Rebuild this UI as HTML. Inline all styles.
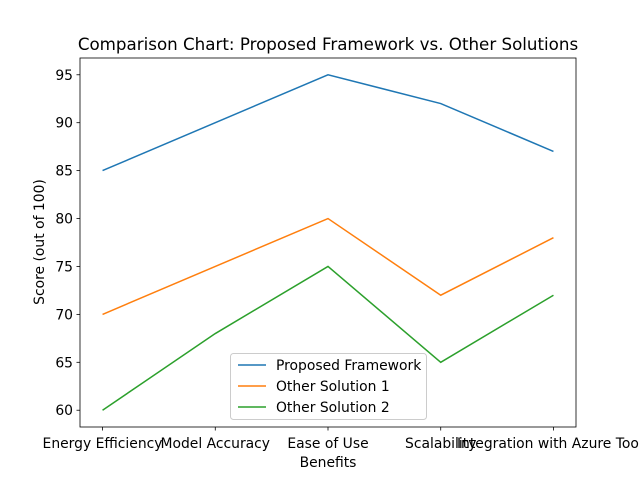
<!DOCTYPE html>
<html><head><meta charset="utf-8"><style>
body{margin:0;background:#fff;}
svg text{font-family:"DejaVu Sans","Liberation Sans",sans-serif;fill:#000;}
</style></head><body>
<svg id="chart" width="640" height="480">
<rect width="640" height="480" fill="#fff"/>
<text x="328" y="50" font-size="16.7" text-anchor="middle">Comparison Chart: Proposed Framework vs. Other Solutions</text>
<g id="plot"></g>
<rect x="80" y="58" width="496" height="369" fill="none" stroke="#000" stroke-width="0.8"/>
<text x="328" y="467" font-size="13.9" text-anchor="middle">Benefits</text>
<text transform="translate(44,242) rotate(-90)" font-size="13.9" text-anchor="middle">Score (out of 100)</text>
</svg>
<script>
const categories=["Energy Efficiency","Model Accuracy","Ease of Use","Scalability","Integration with Azure Tools"];
const proposed=[85,90,95,92,87];
const other1=[70,75,80,72,78];
const other2=[60,68,75,65,72];
const yTicks=[60,65,70,75,80,85,90,95];
const seriesNames=["Proposed Framework","Other Solution 1","Other Solution 2"];
const colors=["#1f77b4","#ff7f0e","#2ca02c"];

const L=80,R=576,T=58,B=427;
const yMin=58.25,yMax=96.75;
const xs=i=>L+(i+0.2)/4.4*(R-L);
const ys=v=>B-(v-yMin)/(yMax-yMin)*(B-T);
const NS="http://www.w3.org/2000/svg";
const g=document.getElementById('plot');
function mk(t,a){const e=document.createElementNS(NS,t);for(const k in a)e.setAttribute(k,a[k]);g.appendChild(e);return e;}
yTicks.forEach(v=>{
  const y=ys(v);
  const l=mk('line',{x1:L-3.5,x2:L,y1:y,y2:y,stroke:'#000','stroke-width':0.8});
  
  
  const t=mk('text',{x:L-7,y:y+5,'font-size':13.9,'text-anchor':'end'});
  t.textContent=v;
  
  
});
categories.forEach((c,i)=>{
  const x=xs(i);
  const l=mk('line',{x1:x,x2:x,y1:B,y2:B+3.5,stroke:'#000','stroke-width':0.8});
  
  
  const t=mk('text',{x:x,y:B+21,'font-size':13.9,'text-anchor':'middle'});
  t.textContent=c;
  
  
});
[proposed,other1,other2].forEach((s,k)=>{
  const p=mk('polyline',{points:s.map((v,i)=>xs(i)+','+ys(v)).join(' '),fill:'none',stroke:colors[k],'stroke-width':1.5});
  
  
});
const lb=mk('rect',{x:230.5,y:353.5,width:196,height:66,rx:3,fill:'#fff','fill-opacity':0.8,stroke:'#ccc'});


seriesNames.forEach((n,k)=>{
  const y=365+k*21;
  const l=mk('line',{x1:238,x2:266,y1:y,y2:y,stroke:colors[k],'stroke-width':1.5});
  
  
  const t=mk('text',{x:276,y:y+5,'font-size':13.9});
  t.textContent=n;
  
  
});
</script>
</body></html>
